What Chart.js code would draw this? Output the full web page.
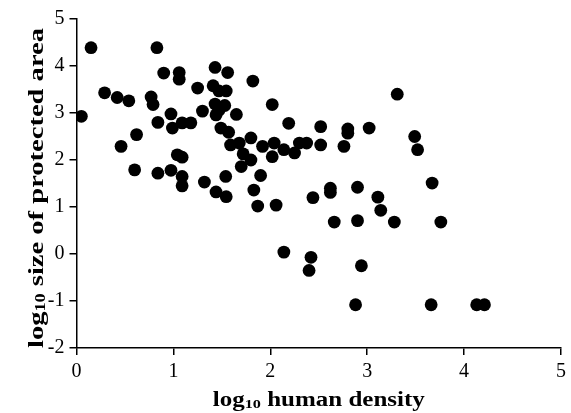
<!DOCTYPE html>
<html>
<head>
<meta charset="utf-8">
<script src="https://cdn.jsdelivr.net/npm/chart.js@4/dist/chart.umd.min.js"></script>
<style>
  html, body { margin: 0; padding: 0; background: #fff; }
  #wrap { width: 571px; height: 413px; position: relative; }
</style>
</head>
<body>
<div id="wrap"><canvas id="scatter"></canvas></div>
<script>
// values
const humanDensity = [
  0.05, 0.15, 0.29, 0.42, 0.54, 0.46, 0.62, 0.60, 0.77, 0.79,
  0.83, 0.90, 1.06, 1.06, 0.84, 0.975, 0.99, 1.09, 1.18, 1.04,
  1.09, 0.84, 0.975, 1.09, 1.09, 1.32, 1.25, 1.30, 1.43, 1.56,
  1.41, 1.47, 1.545, 1.43, 1.53, 1.47, 1.44, 1.65, 1.49, 1.57,
  1.59, 1.68, 1.80, 1.82, 1.72, 1.80, 1.70, 1.54, 1.44, 1.545,
  1.83, 1.90, 1.87, 2.06, 2.02, 1.92, 2.04, 2.02, 2.14, 2.19,
  2.25, 2.30, 2.375, 2.52, 2.52, 2.76, 2.80, 2.80, 3.02, 3.31,
  3.49, 3.52, 2.44, 2.62, 2.62, 2.90, 3.11, 3.14, 3.28, 2.66,
  2.90, 3.67, 3.76, 2.14, 2.42, 2.40, 2.94, 2.88, 3.66, 4.13,
  4.21
];
const protectedArea = [
  2.93, 4.39, 3.43, 3.33, 3.26, 2.29, 2.54, 1.79, 3.34, 3.18,
  4.39, 3.85, 3.86, 3.72, 2.80, 2.98, 2.68, 2.79, 2.79, 2.11,
  2.06, 1.72, 1.78, 1.65, 1.45, 1.53, 3.53, 3.04, 3.97, 3.86,
  3.58, 3.47, 3.47, 3.19, 3.16, 3.06, 2.96, 2.97, 2.68, 2.59,
  2.32, 2.36, 2.47, 3.68, 2.13, 2.00, 1.86, 1.65, 1.32, 1.22,
  1.36, 1.67, 1.02, 1.04, 3.18, 2.29, 2.36, 2.07, 2.22, 2.78,
  2.15, 2.36, 2.36, 2.32, 2.71, 2.29, 2.66, 2.57, 2.68, 3.40,
  2.50, 2.22, 1.20, 1.40, 1.31, 1.42, 1.21, 0.93, 0.68, 0.68,
  0.71, 1.51, 0.68, 0.04, -0.07, -0.35, -0.25, -1.08, -1.08, -1.08,
  -1.08
];
const xTitle = ["log", "10", " human density"];
const yTitle = ["log", "10", " size of protected area"];

const SERIF = '"Liberation Serif", "Times New Roman", serif';

// "log" + subscript "10" + rest, centred on (0,0), stretched to a given width
function drawSubTitle(ctx, parts, size, width) {
  const big = "bold " + size + "px " + SERIF;
  const small = "bold " + Math.round(size * 0.65) + "px " + SERIF;
  ctx.font = big;  const w1 = ctx.measureText(parts[0]).width;
  ctx.font = small; const w2 = ctx.measureText(parts[1]).width;
  ctx.font = big;  const w3 = ctx.measureText(parts[2]).width;
  const total = w1 + w2 + w3;
  ctx.scale(width / total, 1);
  let x = -total / 2;
  ctx.textBaseline = "alphabetic";
  ctx.textAlign = "left";
  ctx.fillStyle = "#000";
  ctx.font = big;   ctx.fillText(parts[0], x, 0); x += w1;
  ctx.font = small; ctx.fillText(parts[1], x, 2); x += w2;
  ctx.font = big;   ctx.fillText(parts[2], x, 0);
}

const axisTitles = {
  id: "axisTitles",
  afterDraw(chart) {
    const ctx = chart.ctx, a = chart.chartArea;
    ctx.save();
    ctx.translate((a.left + a.right) / 2, 406);
    drawSubTitle(ctx, xTitle, 20, 212);
    ctx.restore();

    ctx.save();
    ctx.translate(43, 188);
    ctx.rotate(-Math.PI / 2);
    drawSubTitle(ctx, yTitle, 22, 320);
    ctx.restore();
  }
};

const points = humanDensity.map((x, i) => ({ x: x, y: protectedArea[i] }));

const axisCommon = {
  grid: { display: true, drawOnChartArea: false, drawTicks: true, tickLength: 7, color: "#000", lineWidth: 1.5 },
  border: { display: true, color: "#000", width: 1.5 },
  ticks: { stepSize: 1, color: "#000", padding: 5, font: { family: SERIF, size: 20 } },
  title: { display: false }
};

new Chart(document.getElementById("scatter"), {
  type: "scatter",
  data: {
    datasets: [{
      data: points,
      backgroundColor: "#000",
      borderColor: "#000",
      borderWidth: 0,
      pointRadius: 6.4,
      pointHoverRadius: 6.4
    }]
  },
  options: {
    responsive: true,
    maintainAspectRatio: false,
    animation: false,
    layout: { padding: { left: 0, top: 19, right: 6.5, bottom: 0 } },
    plugins: { legend: { display: false }, tooltip: { enabled: false } },
    scales: {
      x: Object.assign({}, axisCommon, {
        type: "linear", min: 0, max: 5,
        afterFit: (s) => { s.height = 65; }
      }),
      y: Object.assign({}, axisCommon, {
        type: "linear", min: -2, max: 5,
        afterFit: (s) => { s.width = 76.5; }
      })
    }
  },
  plugins: [axisTitles]
});
</script>
</body>
</html>
